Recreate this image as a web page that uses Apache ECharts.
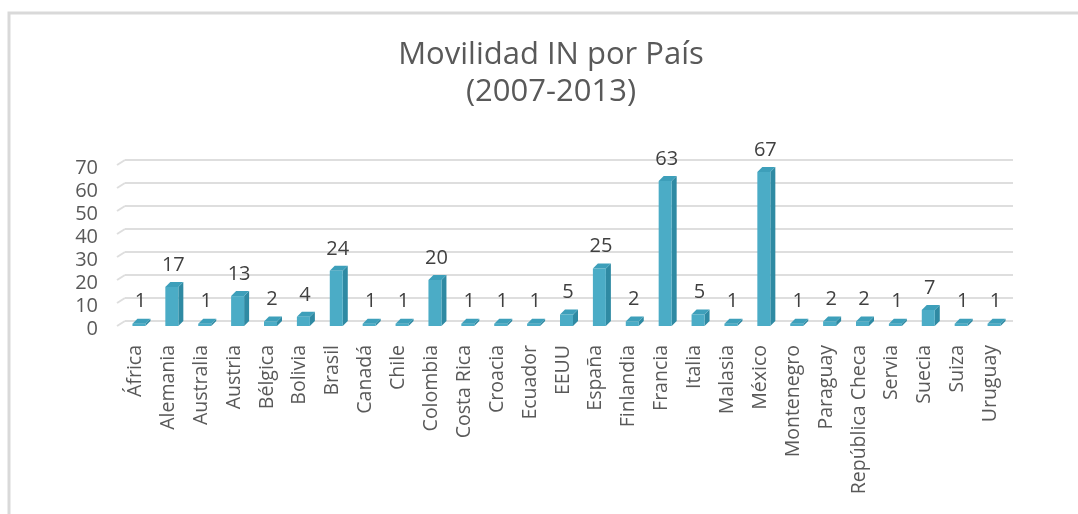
<!DOCTYPE html>
<html>
<head>
<meta charset="utf-8">
<script src="https://cdn.jsdelivr.net/npm/echarts@6/dist/echarts.min.js"></script>
<style>
	html, body { margin: 0; padding: 0; background: #fff; }
	#chart { width: 1078px; height: 514px; }
</style>
</head>
<body>
<div id="chart"></div>
<script>
// data
const countries = ['África', 'Alemania', 'Australia', 'Austria', 'Bélgica', 'Bolivia', 'Brasil', 'Canadá', 'Chile', 'Colombia',
	'Costa Rica', 'Croacia', 'Ecuador', 'EEUU', 'España', 'Finlandia', 'Francia', 'Italia', 'Malasia', 'México',
	'Montenegro', 'Paraguay', 'República Checa', 'Servia', 'Suecia', 'Suiza', 'Uruguay']
const movilidad = [1, 17, 1, 13, 2, 4, 24, 1, 1, 20, 1, 1, 1, 5, 25, 2, 63, 5, 1, 67, 1, 2, 2, 1, 7, 1, 1]
const yTicks = [0, 10, 20, 30, 40, 50, 60, 70]

const font = '"Open Sans", "Noto Sans", sans-serif'
const textColor = '#595959'
const gridColor = '#dedede'

const chart = echarts.init(document.getElementById('chart'))

// pseudo 3D column: side face, front face, top face and value label
const renderBar = (params, api) => {
	const idx = api.value(0)
	const val = api.value(1)
	const top = api.coord([idx, val])
	const base = api.coord([idx, 0])
	const c = top[0]
	const d = 5
	const fl = c - 9, fr = c + 4
	const yt = top[1], yb = base[1]
	return {
		type: 'group',
		children: [
			{
				type: 'polygon',
				shape: { points: [[fr, yt + d], [fr + d, yt], [fr + d, yb], [fr, yb + d]] },
				style: { fill: '#2f8aa3' }
			},
			{
				type: 'rect',
				shape: { x: fl, y: yt + d, width: fr - fl, height: yb - yt },
				style: { fill: '#4bacc6' }
			},
			{
				type: 'polygon',
				shape: { points: [[fl, yt + d], [fr, yt + d], [fr + d, yt], [fl + d, yt]] },
				style: { fill: '#3d9fba' }
			},
			{
				type: 'text',
				style: {
					text: String(val),
					x: c - 1,
					y: yt - 17,
					align: 'center',
					verticalAlign: 'middle',
					fill: '#404040',
					font: '20px ' + font
				}
			}
		]
	}
}

// slanted floor edge at the left end of each gridline
const renderEdge = (params, api) => {
	const y = api.coord([0, api.value(0)])[1]
	const x = params.coordSys.x
	return {
		type: 'line',
		shape: { x1: x - 8, y1: y + 5, x2: x, y2: y },
		style: { stroke: gridColor, lineWidth: 2 }
	}
}

const option = {
	animation: false,
	title: {
		text: 'Movilidad IN por País\n(2007-2013)',
		left: 546,
		top: 32,
		textAlign: 'center',
		textStyle: {
			fontFamily: font,
			fontSize: 31,
			fontWeight: 'normal',
			lineHeight: 37,
			color: textColor
		}
	},
	graphic: [
		{
			type: 'rect',
			shape: { x: 9, y: 13, width: 1200, height: 600 },
			style: { fill: 'none', stroke: '#d9d9d9', lineWidth: 3 },
			silent: true
		}
	],
	grid: {
		left: 125,
		right: 65,
		top: 160,
		bottom: 193
	},
	xAxis: {
		type: 'category',
		data: countries,
		axisLine: { show: false },
		axisTick: { show: false },
		axisLabel: {
			interval: 0,
			rotate: 90,
			margin: 24,
			verticalAlign: 'bottom',
			lineHeight: 12,
			fontFamily: font,
			fontSize: 19.5,
			color: textColor
		}
	},
	yAxis: {
		type: 'value',
		min: 0,
		max: 70,
		interval: 10,
		axisLine: { show: false },
		axisTick: { show: false },
		axisLabel: {
			margin: 27,
			verticalAlign: 'top',
			lineHeight: 16,
			fontFamily: font,
			fontSize: 20,
			color: textColor
		},
		splitLine: {
			lineStyle: { color: gridColor, width: 2 }
		}
	},
	series: [
		{
			type: 'custom',
			renderItem: renderEdge,
			silent: true,
			encode: { y: 0 },
			data: yTicks.map(v => [v])
		},
		{
			type: 'custom',
			renderItem: renderBar,
			encode: { x: 0, y: 1 },
			data: movilidad.map((v, i) => [i, v])
		}
	]
}

chart.setOption(option)
</script>
</body>
</html>
